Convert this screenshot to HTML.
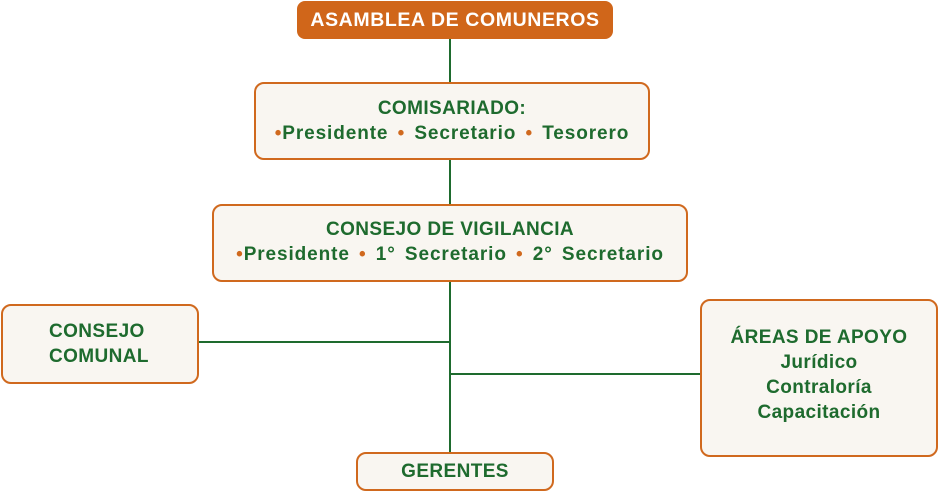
<!DOCTYPE html>
<html><head><meta charset="utf-8"><style>
body{margin:0;width:940px;height:493px;background:#fff;position:relative;overflow:hidden;font-family:"Liberation Sans",sans-serif;font-weight:bold;color:#1E6B2E}
.b{position:absolute;box-sizing:border-box;background:#F9F6F1;border:2px solid #D0691E;border-radius:10px;text-align:center;font-size:19px;line-height:25px;letter-spacing:0.4px}
.l{position:absolute;background:#1E6B2E}
.d{color:#D0691E}
.w{letter-spacing:0.9px;word-spacing:3px}
</style></head><body>
<div class="l" style="left:449px;top:39px;width:2px;height:414px"></div>
<div class="l" style="left:199px;top:341px;width:251px;height:2px"></div>
<div class="l" style="left:450px;top:373px;width:251px;height:2px"></div>
<div class="b" style="left:297px;top:1px;width:316px;height:38px;background:#D0661A;border:none;border-radius:8px;color:#fff;line-height:38px;font-size:19.5px;letter-spacing:0.6px">ASAMBLEA DE COMUNEROS</div>
<div class="b" style="left:254px;top:82px;width:396px;height:78px;padding-top:12px">COMISARIADO:<br><span class="w"><span class="d">•</span>Presidente <span class="d">•</span> Secretario <span class="d">•</span> Tesorero</span></div>
<div class="b" style="left:212px;top:204px;width:476px;height:78px;padding-top:11px">CONSEJO DE VIGILANCIA<br><span class="w"><span class="d">•</span>Presidente <span class="d">•</span> 1° Secretario <span class="d">•</span> 2° Secretario</span></div>
<div class="b" style="left:1px;top:304px;width:198px;height:80px;padding-top:13px;text-align:left;padding-left:46px">CONSEJO<br>COMUNAL</div>
<div class="b" style="left:700px;top:299px;width:238px;height:158px;padding-top:24px">ÁREAS DE APOYO<br>Jurídico<br>Contraloría<br>Capacitación</div>
<div class="b" style="left:356px;top:452px;width:198px;height:39px;line-height:35px">GERENTES</div>
</body></html>
